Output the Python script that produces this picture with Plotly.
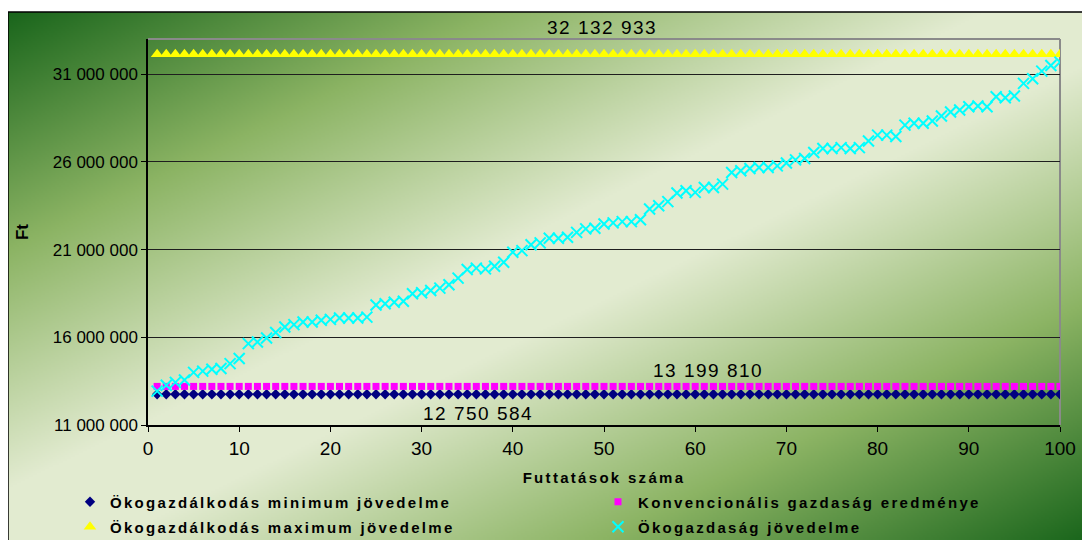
import base64
import struct
import zlib

import numpy as np
import plotly.graph_objects as go

# ---------------- data ----------------
runs = list(range(1, 101))
min_income = 12750584          # Ökogazdálkodás minimum jövedelme
conv_result = 13199810         # Konvencionális gazdaság eredménye
max_income = 32132933          # Ökogazdálkodás maximum jövedelme
eco_income_m = [
    12.93, 13.27, 13.43, 13.56, 14.00, 14.07, 14.18, 14.22, 14.50, 14.79,
    15.64, 15.73, 15.96, 16.27, 16.59, 16.72, 16.87, 16.87, 16.97, 17.02,
    17.10, 17.10, 17.10, 17.15, 17.84, 17.91, 18.00, 18.05, 18.48, 18.54,
    18.67, 18.80, 18.99, 19.37, 19.86, 19.94, 19.90, 20.05, 20.28, 20.85,
    20.94, 21.27, 21.38, 21.64, 21.64, 21.70, 21.98, 22.18, 22.21, 22.46,
    22.52, 22.59, 22.59, 22.70, 23.31, 23.50, 23.73, 24.22, 24.35, 24.26,
    24.54, 24.54, 24.73, 25.39, 25.49, 25.62, 25.68, 25.68, 25.77, 25.93,
    26.11, 26.19, 26.53, 26.76, 26.76, 26.81, 26.76, 26.81, 27.19, 27.52,
    27.52, 27.44, 28.09, 28.20, 28.20, 28.33, 28.61, 28.84, 28.95, 29.14,
    29.18, 29.14, 29.71, 29.65, 29.75, 30.47, 30.73, 31.17, 31.49, 31.68,
]
eco_income = [v * 1e6 for v in eco_income_m]

y_tickvals = [11000000, 16000000, 21000000, 26000000, 31000000]
x_tickvals = [0, 10, 20, 30, 40, 50, 60, 70, 80, 90, 100]

names = [
    "Ökogazdálkodás minimum jövedelme",
    "Konvencionális gazdaság eredménye",
    "Ökogazdálkodás maximum jövedelme",
    "Ökogazdaság jövedelme",
]
x_title = "Futtatások száma"
y_title = "Ft"


def fmt(v):
    return f"{int(v):,}".replace(",", " ")


def spaced(text, px_):
    return f'<span style="letter-spacing:{px_}px">{text}</span>'


# ---------------- background gradient image ----------------
def make_png(rgb):
    h, w, _ = rgb.shape
    raw = b"".join(b"\x00" + rgb[r].tobytes() for r in range(h))

    def chunk(tag, data):
        c = struct.pack(">I", len(data)) + tag + data
        return c + struct.pack(">I", zlib.crc32(tag + data) & 0xFFFFFFFF)

    png = (b"\x89PNG\r\n\x1a\n"
           + chunk(b"IHDR", struct.pack(">IIBBBBB", w, h, 8, 2, 0, 0, 0))
           + chunk(b"IDAT", zlib.compress(raw, 9))
           + chunk(b"IEND", b""))
    return "data:image/png;base64," + base64.b64encode(png).decode()


GW, GH = 541, 264
u = np.linspace(0, 1, GW)[None, :]
v = np.linspace(0, 1, GH)[:, None]
t = (u + v) / 2.0
f = 1 - np.abs(2 * t - 1)
stops = [0.0, 0.45, 0.9, 1.0]
dark, mid, light = (26, 102, 28), (140, 180, 100), (226, 235, 208)
img = np.zeros((GH, GW, 3), dtype=np.uint8)
for c in range(3):
    img[:, :, c] = np.interp(f, stops, [dark[c], mid[c], light[c], light[c]]).astype(np.uint8)
bg_src = make_png(img)

# ---------------- geometry ----------------
# page body has an 8px margin: figure pixel = screen pixel - 8
OFF = 8
W, H = 1090 - OFF, 540 - OFF
L, R, T, B = 148 - OFF, 1060 - OFF, 39 - OFF, 425 - OFF
PW, PH = R - L, B - T


def px(xs):  # screen x -> paper x
    return (xs - OFF - L) / PW


def py(ys):  # screen y -> paper y
    return (B - (ys - OFF)) / PH


FONT = "Liberation Sans, Arial, sans-serif"

fig = go.Figure()
fig.add_trace(go.Scatter(
    x=runs, y=[min_income] * len(runs), mode="markers", name=spaced(names[0], 2.3),
    marker=dict(symbol="diamond", size=8, color="#000080"), legend="legend"))
fig.add_trace(go.Scatter(
    x=runs, y=[conv_result] * len(runs), mode="markers", name=spaced(names[1], 2.3),
    marker=dict(symbol="square", size=7, color="#FF00FF"), legend="legend2"))
fig.add_trace(go.Scatter(
    x=runs, y=[max_income] * len(runs), mode="markers", name=spaced(names[2], 2.3),
    marker=dict(symbol="triangle-up", size=11, color="#FFFF00"), legend="legend3"))
fig.add_trace(go.Scatter(
    x=runs, y=eco_income, mode="markers", name=spaced(names[3], 2.3),
    marker=dict(symbol="x-thin", size=11, color="#00FFFF",
                line=dict(color="#00FFFF", width=2)), legend="legend4"))

legend_common = dict(
    orientation="h", xanchor="left", yanchor="middle",
    bgcolor="rgba(0,0,0,0)",
    font=dict(family=FONT, size=15, color="black", weight="bold"),
    itemwidth=30, borderwidth=0,
)

ann_font = dict(size=19, family=FONT, color="black")

fig.update_layout(
    width=W, height=H,
    showlegend=True,
    margin=dict(l=L, r=W - R, t=T, b=H - B, autoexpand=False),
    paper_bgcolor="white", plot_bgcolor="rgba(0,0,0,0)",
    font=dict(family=FONT, color="black"),
    legend=dict(x=px(70), y=py(502), **legend_common),
    legend2=dict(x=px(598), y=py(502), **legend_common),
    legend3=dict(x=px(70), y=py(527), **legend_common),
    legend4=dict(x=px(598), y=py(527), **legend_common),
    xaxis=dict(
        range=[0, 100], tickvals=x_tickvals, ticks="outside", ticklen=5,
        tickcolor="black", showline=True, linecolor="black", linewidth=1.5,
        showgrid=False, zeroline=False,
        tickfont=dict(size=19, family=FONT, color="black"),
        title=dict(text=spaced(x_title, 2.3), standoff=15,
                   font=dict(size=15, family=FONT, color="black", weight="bold")),
    ),
    yaxis=dict(
        range=[11000000, 33000000], tickvals=y_tickvals,
        ticktext=[fmt(v) for v in y_tickvals], ticks="outside", ticklen=5,
        tickcolor="black", showline=True, linecolor="black", linewidth=1.5,
        showgrid=True, gridcolor="#1e1e1e", gridwidth=1, zeroline=False,
        tickfont=dict(size=17, family=FONT, color="black"),
        title=dict(text=y_title, standoff=20,
                   font=dict(size=17, family=FONT, color="black", weight="bold")),
    ),
    images=[dict(
        source=bg_src, xref="paper", yref="paper",
        x=px(8), y=py(12), sizex=(1090 - 8) / PW, sizey=(540 - 12) / PH,
        xanchor="left", yanchor="top", sizing="stretch", layer="below",
    )],
    shapes=[
        dict(type="rect", xref="paper", yref="paper", x0=px(8), x1=px(1096),
             y0=py(546), y1=py(12), line=dict(color="black", width=1.5)),
        dict(type="line", xref="paper", yref="paper", x0=0, x1=1, y0=1, y1=1,
             line=dict(color="#8a8a8a", width=2), layer="below"),
        dict(type="line", xref="paper", yref="paper", x0=1, x1=1, y0=0, y1=1,
             line=dict(color="#8a8a8a", width=2), layer="below"),
    ],
    annotations=[
        dict(text=spaced(fmt(max_income), 1.5), xref="paper", yref="paper",
             x=px(602), y=py(28), xanchor="center", yanchor="middle",
             showarrow=False, font=ann_font),
        dict(text=spaced(fmt(conv_result), 1.5), xref="paper", yref="paper",
             x=px(708), y=py(370), xanchor="center", yanchor="middle",
             showarrow=False, font=ann_font),
        dict(text=spaced(fmt(min_income), 1.5), xref="paper", yref="paper",
             x=px(478), y=py(413), xanchor="center", yanchor="middle",
             showarrow=False, font=ann_font),
    ],
)

fig.write_html("out.html")
